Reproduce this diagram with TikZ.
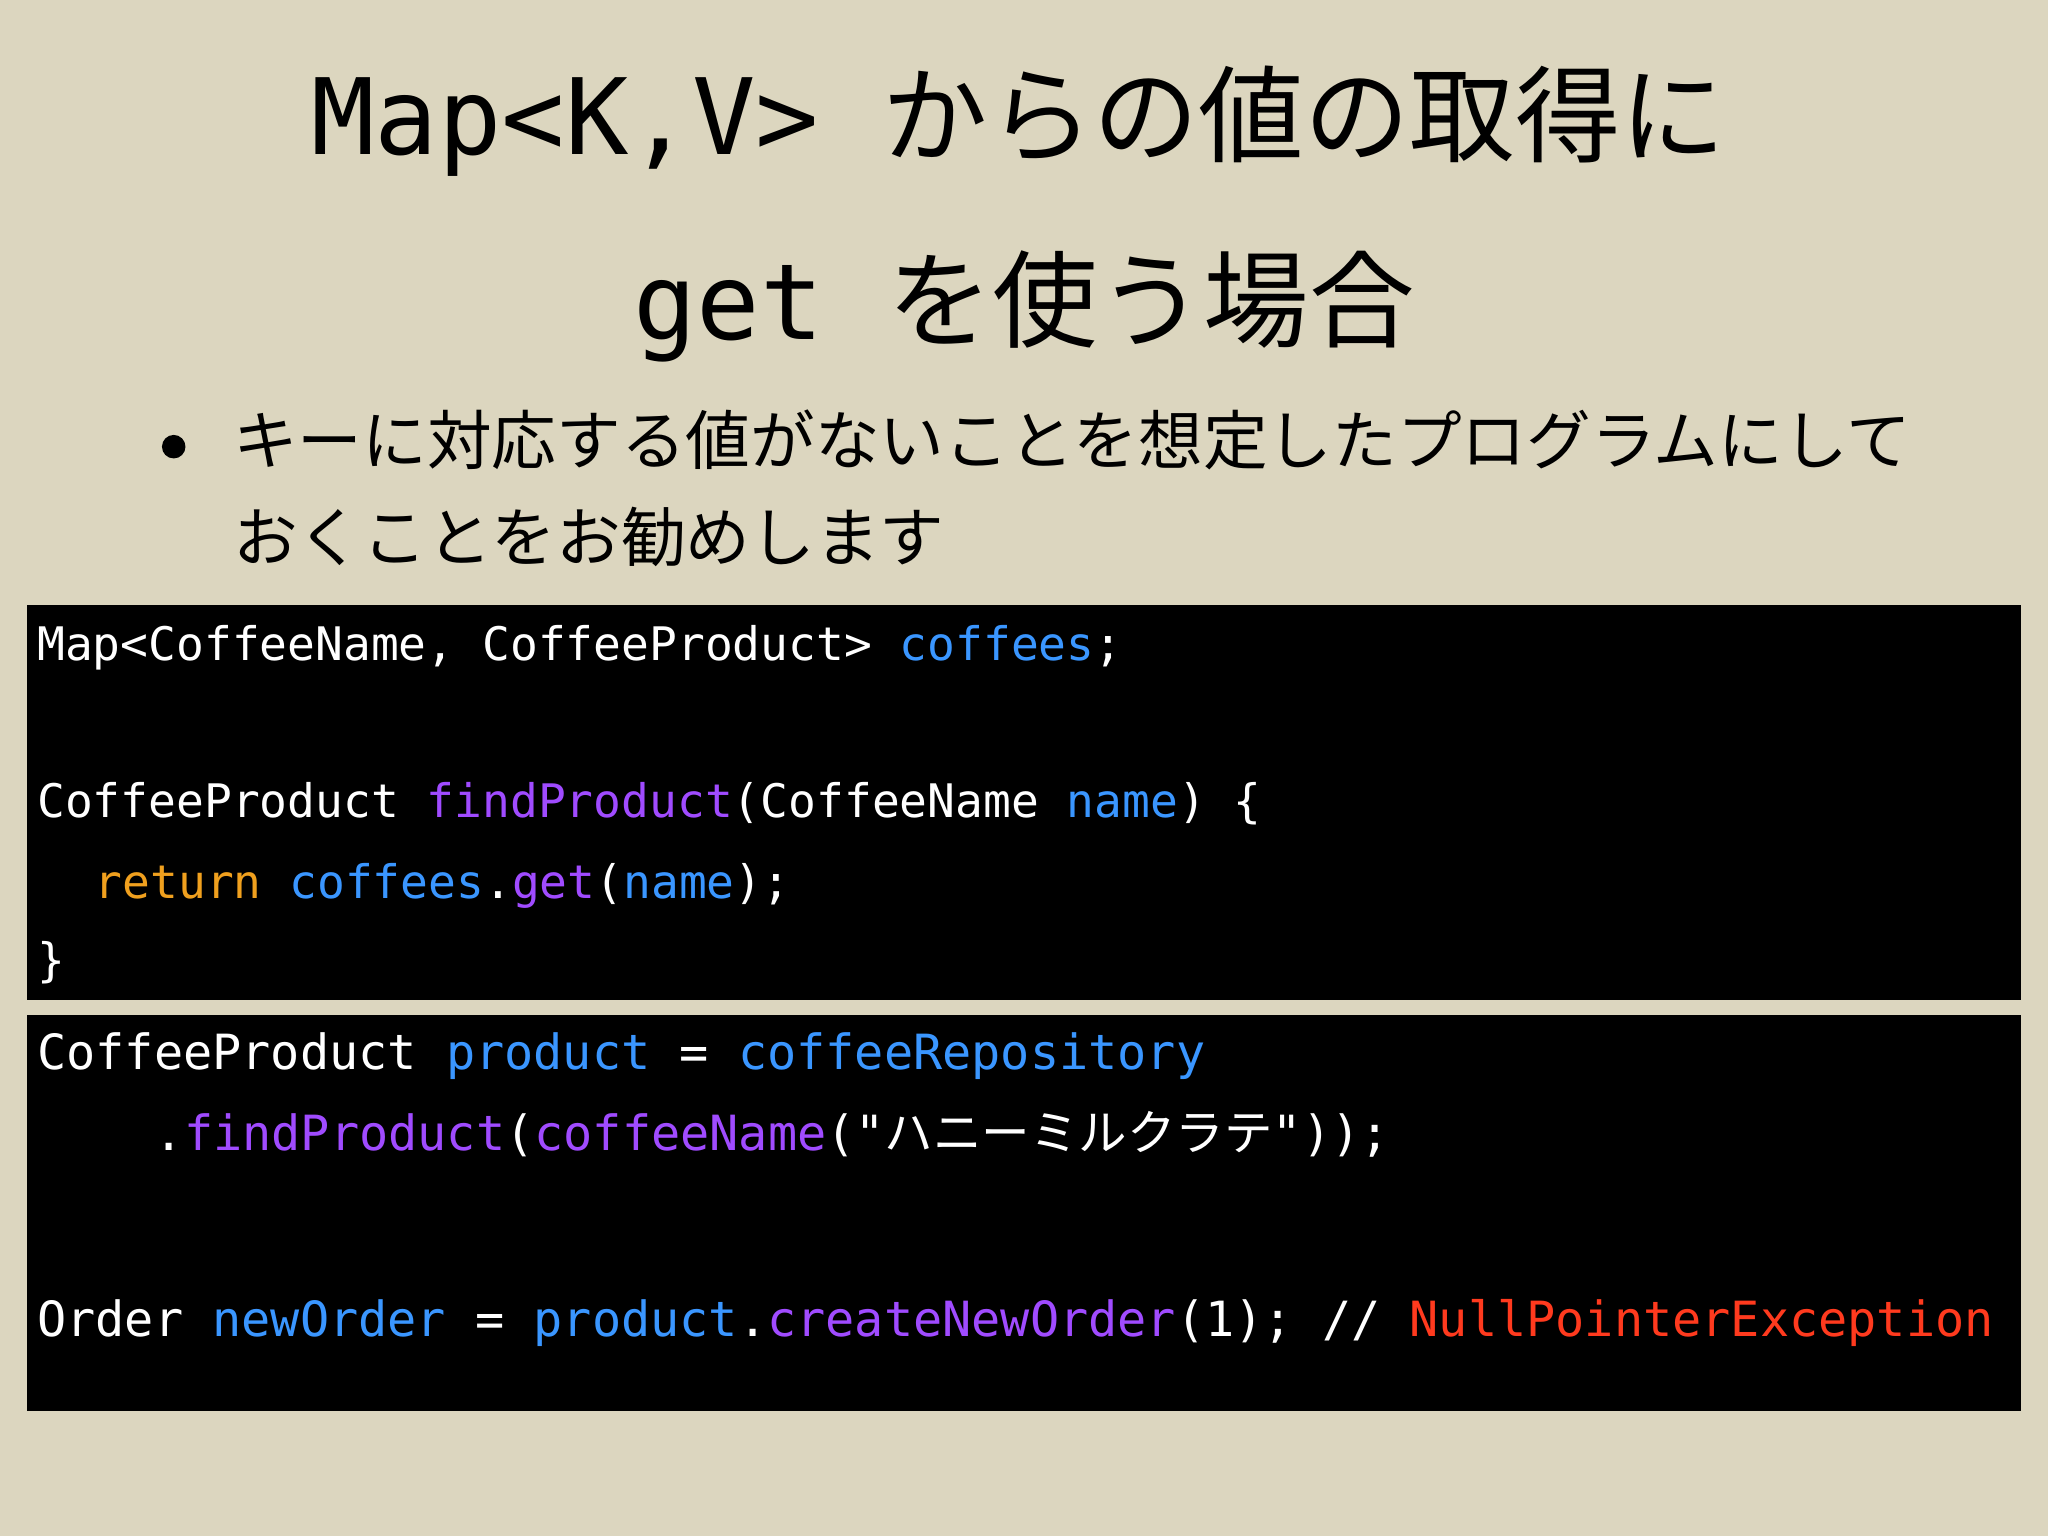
\documentclass[tikz,border=0pt]{standalone}
\usepackage{fontspec}
\setmonofont{DejaVu Sans Mono}
\newfontfamily\cjk{Noto Sans CJK JP}
\definecolor{bg}{HTML}{DCD6BF}
\definecolor{cblue}{HTML}{3A96FF}
\definecolor{cpurp}{HTML}{A04BFF}
\definecolor{corange}{HTML}{F0A01E}
\definecolor{cred}{HTML}{FF3A1E}
\tikzset{
  code/.style={anchor=base west,inner sep=0pt,text=white,font=\ttfamily\fontsize{13.8}{16}\selectfont},
  codea/.style={code,font=\ttfamily\fontsize{13.15}{16}\selectfont},
  title/.style={anchor=base,inner sep=0pt,text=black,font=\fontsize{30}{36}\selectfont},
  bul/.style={anchor=base west,inner sep=0pt,text=black,font=\cjk\fontsize{18.4}{22}\selectfont},
  box/.style={fill=black,draw=none}
}
\begin{document}
\begin{tikzpicture}[x=0.01306cm,y=-0.01306cm]
\fill[bg] (0,0) rectangle (1568,1176);
\useasboundingbox (0,0) rectangle (1568,1176);
\node[title] (t1) at (780,118) {\ttfamily Map<K,V>\ {\cjk からの値の取得に}};
\node[title] (t2) at (784,260) {\ttfamily get\ {\cjk を使う場合}};
\fill (133,342) circle (9);
\node[bul] (b1) at (178,356) {キーに対応する値がないことを想定したプログラムにして};
\node[bul] (b2) at (178,430) {おくことをお勧めします};
\path[box] (21,463) rectangle (1547,766);
\path[box] (21,777) rectangle (1547,1080);
\node[codea] (c1) at (28,506) {Map<CoffeeName, CoffeeProduct> \textcolor{cblue}{coffees};};
\node[codea] (c2) at (28,626) {CoffeeProduct \textcolor{cpurp}{findProduct}(CoffeeName \textcolor{cblue}{name}) \{};
\node[codea] (c3) at (72,688) {\textcolor{corange}{return} \textcolor{cblue}{coffees}.\textcolor{cpurp}{get}(\textcolor{cblue}{name});};
\node[codea] (c4) at (28,748) {\}};
\node[code] (d1) at (28,819) {CoffeeProduct \textcolor{cblue}{product} = \textcolor{cblue}{coffeeRepository}};
\node[code] (d2) at (118,881) {.\textcolor{cpurp}{findProduct}(\textcolor{cpurp}{coffeeName}("{\cjk ハニーミルクラテ}"));};
\node[code] (d3) at (28,1023) {Order \textcolor{cblue}{newOrder} = \textcolor{cblue}{product}.\textcolor{cpurp}{createNewOrder}(1); // \textcolor{cred}{NullPointerException}};
\end{tikzpicture}
\end{document}
